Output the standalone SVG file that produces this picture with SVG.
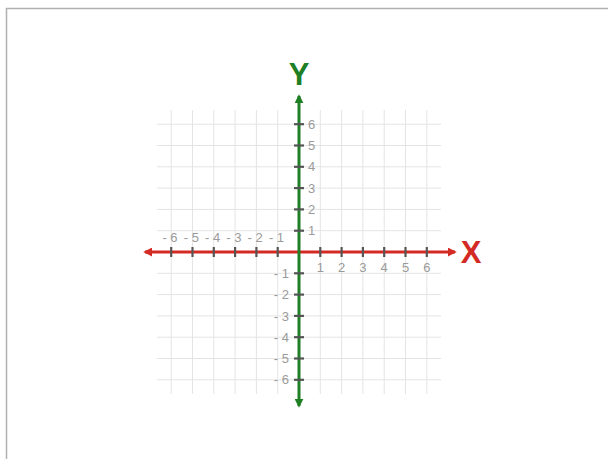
<svg xmlns="http://www.w3.org/2000/svg" width="608" height="459" viewBox="0 0 608 459">
<style>
.grid line{stroke:#e4e4e4;stroke-width:1}
.tick{stroke:#555;stroke-width:2.2}
.num{font-family:"Liberation Sans",Arial,sans-serif;font-size:13px;fill:#9a9a9a}
.axl{font-family:"Liberation Sans",Arial,sans-serif;font-size:31px;font-weight:bold}
</style>
<defs>
<marker id="ar" viewBox="0 0 10 10" refX="8" refY="5" markerWidth="3" markerHeight="3" orient="auto-start-reverse" markerUnits="strokeWidth"><path d="M0,0 L10,5 L0,10 z" fill="#d42a24"/></marker>
<marker id="ag" viewBox="0 0 10 10" refX="8" refY="5" markerWidth="3" markerHeight="3" orient="auto-start-reverse" markerUnits="strokeWidth"><path d="M0,0 L10,5 L0,10 z" fill="#1f7f24"/></marker>
</defs>
<rect width="608" height="459" fill="#fff"/>
<path d="M6.5,459 V8.5 H608" fill="none" stroke="#b0b0b0" stroke-width="1.5"/>
<g id="grid" class="grid">
<line x1="171.2" y1="110" x2="171.2" y2="394"/><line x1="192.5" y1="110" x2="192.5" y2="394"/><line x1="213.8" y1="110" x2="213.8" y2="394"/><line x1="235.1" y1="110" x2="235.1" y2="394"/><line x1="256.4" y1="110" x2="256.4" y2="394"/><line x1="277.7" y1="110" x2="277.7" y2="394"/>
<line x1="320.3" y1="110" x2="320.3" y2="394"/><line x1="341.6" y1="110" x2="341.6" y2="394"/><line x1="362.9" y1="110" x2="362.9" y2="394"/><line x1="384.2" y1="110" x2="384.2" y2="394"/><line x1="405.5" y1="110" x2="405.5" y2="394"/><line x1="426.8" y1="110" x2="426.8" y2="394"/>
<line x1="157" y1="124.2" x2="441" y2="124.2"/><line x1="157" y1="145.5" x2="441" y2="145.5"/><line x1="157" y1="166.8" x2="441" y2="166.8"/><line x1="157" y1="188.1" x2="441" y2="188.1"/><line x1="157" y1="209.4" x2="441" y2="209.4"/><line x1="157" y1="230.7" x2="441" y2="230.7"/>
<line x1="157" y1="273.3" x2="441" y2="273.3"/><line x1="157" y1="294.6" x2="441" y2="294.6"/><line x1="157" y1="315.9" x2="441" y2="315.9"/><line x1="157" y1="337.2" x2="441" y2="337.2"/><line x1="157" y1="358.5" x2="441" y2="358.5"/><line x1="157" y1="379.8" x2="441" y2="379.8"/>
</g>
<g id="connectors">
<line id="x-axis" x1="145" y1="252" x2="455" y2="252" stroke="#d42a24" stroke-width="3" marker-start="url(#ar)" marker-end="url(#ar)"/>
<line id="y-axis" x1="299" y1="96" x2="299" y2="406" stroke="#1f7f24" stroke-width="3" marker-start="url(#ag)" marker-end="url(#ag)"/>
</g>
<g id="x-ticks" class="tick">
<line x1="171.2" y1="247" x2="171.2" y2="257"/><line x1="192.5" y1="247" x2="192.5" y2="257"/><line x1="213.8" y1="247" x2="213.8" y2="257"/><line x1="235.1" y1="247" x2="235.1" y2="257"/><line x1="256.4" y1="247" x2="256.4" y2="257"/><line x1="277.7" y1="247" x2="277.7" y2="257"/>
<line x1="320.3" y1="247" x2="320.3" y2="257"/><line x1="341.6" y1="247" x2="341.6" y2="257"/><line x1="362.9" y1="247" x2="362.9" y2="257"/><line x1="384.2" y1="247" x2="384.2" y2="257"/><line x1="405.5" y1="247" x2="405.5" y2="257"/><line x1="426.8" y1="247" x2="426.8" y2="257"/>
</g>
<g id="y-ticks" class="tick">
<line x1="294" y1="124.2" x2="304" y2="124.2"/><line x1="294" y1="145.5" x2="304" y2="145.5"/><line x1="294" y1="166.8" x2="304" y2="166.8"/><line x1="294" y1="188.1" x2="304" y2="188.1"/><line x1="294" y1="209.4" x2="304" y2="209.4"/><line x1="294" y1="230.7" x2="304" y2="230.7"/>
<line x1="294" y1="273.3" x2="304" y2="273.3"/><line x1="294" y1="294.6" x2="304" y2="294.6"/><line x1="294" y1="315.9" x2="304" y2="315.9"/><line x1="294" y1="337.2" x2="304" y2="337.2"/><line x1="294" y1="358.5" x2="304" y2="358.5"/><line x1="294" y1="379.8" x2="304" y2="379.8"/>
</g>
<g id="x-labels" class="num" text-anchor="middle">
<text x="170" y="242">- 6</text><text x="191.3" y="242">- 5</text><text x="212.6" y="242">- 4</text><text x="233.9" y="242">- 3</text><text x="255.2" y="242">- 2</text><text x="276.5" y="242">- 1</text>
<text x="320.3" y="272">1</text><text x="341.6" y="272">2</text><text x="362.9" y="272">3</text><text x="384.2" y="272">4</text><text x="405.5" y="272">5</text><text x="426.8" y="272">6</text>
</g>
<g id="y-labels" class="num">
<g text-anchor="start">
<text x="308" y="128.8">6</text><text x="308" y="150.1">5</text><text x="308" y="171.4">4</text><text x="308" y="192.7">3</text><text x="308" y="214">2</text><text x="308" y="235.3">1</text>
</g>
<g text-anchor="end">
<text x="289" y="277.9">- 1</text><text x="289" y="299.2">- 2</text><text x="289" y="320.5">- 3</text><text x="289" y="341.8">- 4</text><text x="289" y="363.1">- 5</text><text x="289" y="384.4">- 6</text>
</g>
</g>
<g id="label-x"><text class="axl" x="471" y="263" text-anchor="middle" fill="#d42a24">X</text></g>
<g id="label-y"><text class="axl" x="299" y="85" text-anchor="middle" fill="#1f7f24">Y</text></g>
</svg>
